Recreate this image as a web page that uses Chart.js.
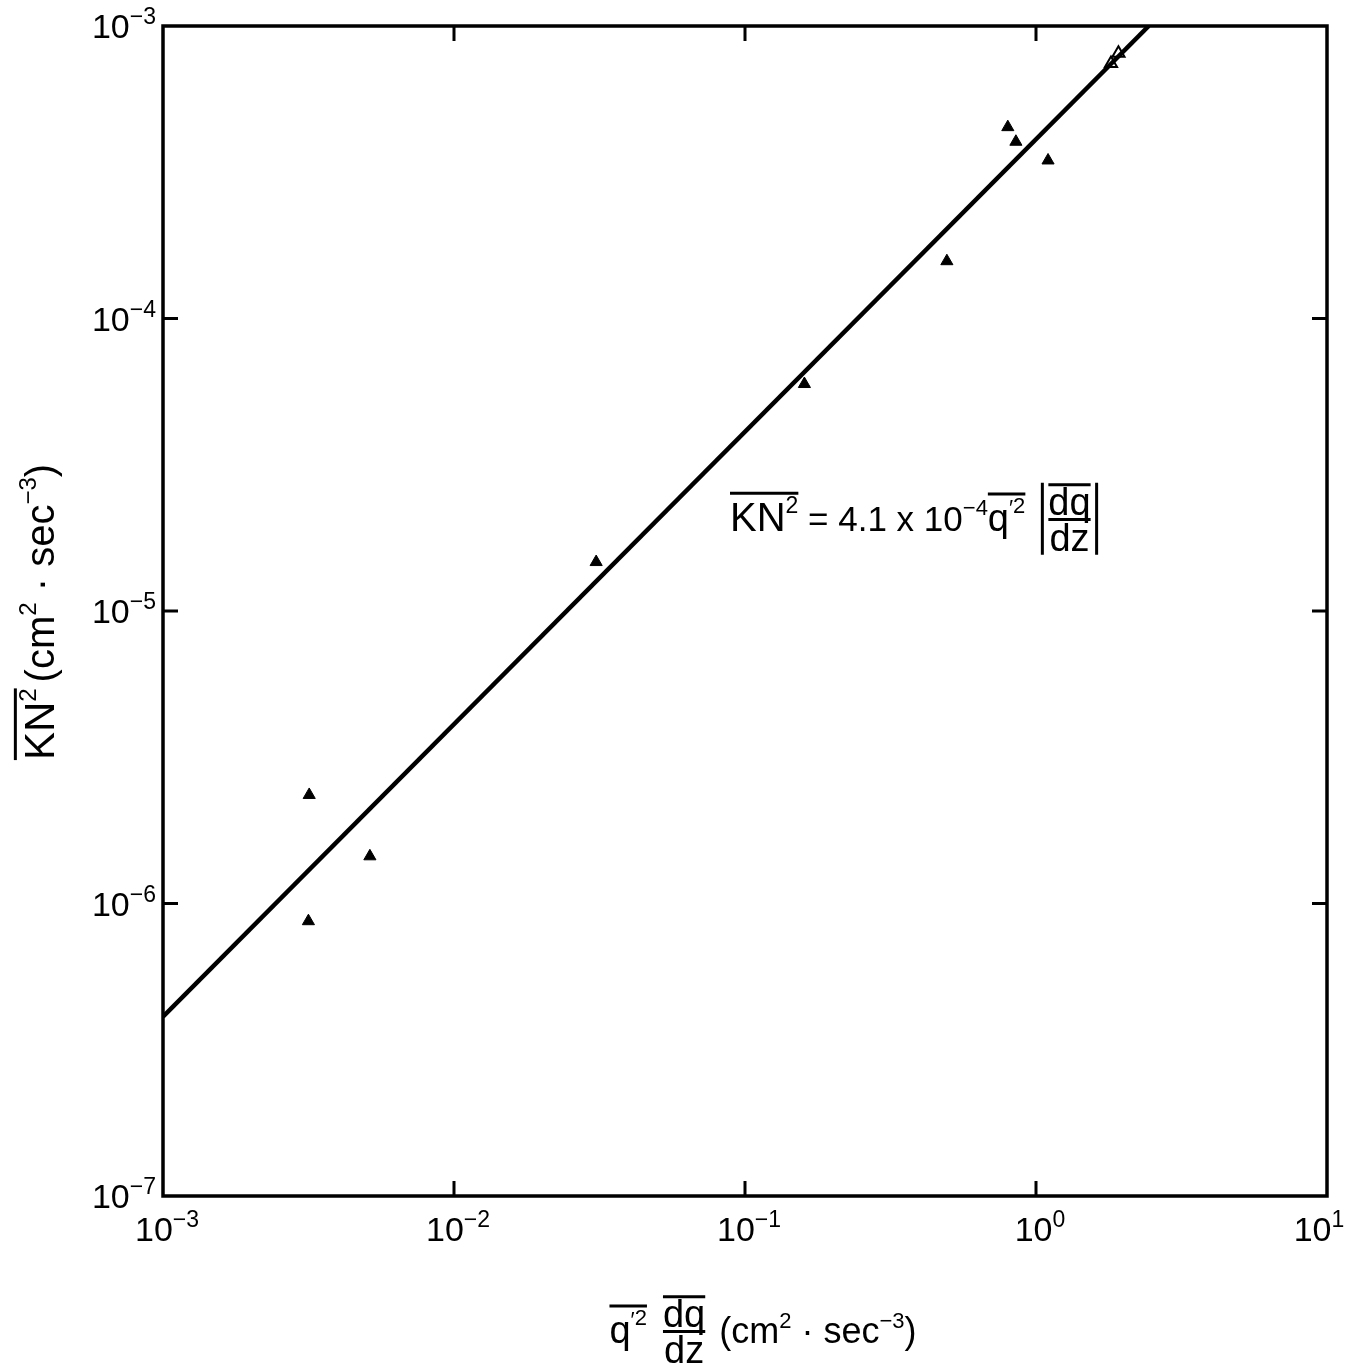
<!DOCTYPE html>
<html lang="en">
<head>
  <meta charset="UTF-8" />
  <title>KN2 vs q'2 dq/dz</title>
  <style>
    body { margin: 0; padding: 0; background: #fff; }
    #wrap { width: 1350px; height: 1367px; }
  </style>
</head>
<body>
  <div id="wrap"><canvas id="chart" width="1350" height="1367"></canvas></div>

  <script src="https://cdn.jsdelivr.net/npm/chart.js"></script>
  <script>
    // measured points (filled triangles)
    const obsX = [0.00318, 0.00316, 0.00514, 0.0308, 0.160, 0.494, 0.80, 0.853, 1.10];
    const obsY = [2.35e-6, 8.7e-7, 1.45e-6, 1.47e-5, 5.97e-5, 1.57e-4, 4.51e-4, 4.02e-4, 3.47e-4];
    // the two open triangles near the top
    const openX = [1.81, 1.92];
    const openY = [7.45e-4, 8.07e-4];
    // fitted line KN^2 = 4.1e-4 * x, end points
    const fitX = [0.001, 2.44];
    const fitY = [4.1e-7, 1.0e-3];

    const xTicks = [1e-3, 1e-2, 1e-1, 1, 10];
    const xTickExp = ['\u22123', '\u22122', '\u22121', '0', '1'];
    const yTicks = [1e-7, 1e-6, 1e-5, 1e-4, 1e-3];
    const yTickExp = ['\u22127', '\u22126', '\u22125', '\u22124', '\u22123'];

    const FONT = '"Liberation Sans", Arial, sans-serif';

    const pts = (xs, ys) => xs.map((x, i) => ({ x: x, y: ys[i] }));

    // ---- tiny rich text helper (superscripts, overlines, fractions) ----
    function partWidth(ctx, p) {
      if (p.gap) return p.gap;
      ctx.font = p.size + 'px ' + FONT;
      if (p.frac) {
        const w = Math.max(ctx.measureText(p.frac[0]).width, ctx.measureText(p.frac[1]).width);
        return w + (p.abs ? 18 : 4);
      }
      return ctx.measureText(p.t).width;
    }

    function drawRich(ctx, parts, x, base, align) {
      let total = 0;
      parts.forEach(p => { total += partWidth(ctx, p); });
      let cx = align === 'center' ? x - total / 2 : (align === 'right' ? x - total : x);
      const groups = {};
      ctx.textAlign = 'left';
      ctx.textBaseline = 'alphabetic';
      parts.forEach(p => {
        const w = partWidth(ctx, p);
        if (p.gap) { cx += w; return; }
        ctx.font = p.size + 'px ' + FONT;
        if (p.frac) {
          const bar = base - p.size * 0.30;
          const inner = cx + (p.abs ? 9 : 2);
          const iw = w - (p.abs ? 18 : 4);
          const tw = ctx.measureText(p.frac[0]).width;
          const bw = ctx.measureText(p.frac[1]).width;
          const topBase = bar - p.size * 0.12;
          const botBase = bar + p.size * 0.82;
          ctx.fillText(p.frac[0], inner + (iw - tw) / 2, topBase);
          ctx.fillText(p.frac[1], inner + (iw - bw) / 2, botBase);
          ctx.lineWidth = 3;
          ctx.beginPath();
          ctx.moveTo(inner, bar); ctx.lineTo(inner + iw, bar);
          const ov = topBase - p.size * 0.80;
          ctx.moveTo(inner, ov); ctx.lineTo(inner + iw, ov);
          if (p.abs) {
            ctx.moveTo(cx + 3, ov - 2); ctx.lineTo(cx + 3, botBase + 4);
            ctx.moveTo(cx + w - 3, ov - 2); ctx.lineTo(cx + w - 3, botBase + 4);
          }
          ctx.stroke();
        } else {
          const rise = p.rise || 0;
          ctx.fillText(p.t, cx, base - rise);
          if (p.over) {
            const oy = base - rise - p.size * 0.86;
            const g = groups[p.over] || (groups[p.over] = { x0: cx, x1: cx, y: oy });
            g.x1 = cx + w;
            g.y = Math.min(g.y, oy);
          }
        }
        cx += w;
      });
      ctx.lineWidth = 3;
      Object.values(groups).forEach(g => {
        ctx.beginPath();
        ctx.moveTo(g.x0, g.y); ctx.lineTo(g.x1, g.y);
        ctx.stroke();
      });
      return total;
    }

    const framePlugin = {
      id: 'frame',
      afterDraw(chart) {
        const ctx = chart.ctx;
        const a = chart.chartArea;
        const xs = chart.scales.x, ys = chart.scales.y;
        ctx.save();
        ctx.strokeStyle = '#000';
        ctx.fillStyle = '#000';
        ctx.lineWidth = 3.5;
        ctx.strokeRect(a.left, a.top, a.right - a.left, a.bottom - a.top);

        // inward decade ticks on all four sides
        const tl = 15;
        ctx.lineWidth = 3;
        ctx.beginPath();
        xTicks.forEach(v => {
          const px = xs.getPixelForValue(v);
          if (px <= a.left + 1 || px >= a.right - 1) return;
          ctx.moveTo(px, a.bottom); ctx.lineTo(px, a.bottom - tl);
          ctx.moveTo(px, a.top); ctx.lineTo(px, a.top + tl);
        });
        yTicks.forEach(v => {
          const py = ys.getPixelForValue(v);
          if (py <= a.top + 1 || py >= a.bottom - 1) return;
          ctx.moveTo(a.left, py); ctx.lineTo(a.left + tl, py);
          ctx.moveTo(a.right, py); ctx.lineTo(a.right - tl, py);
        });
        ctx.stroke();

        // tick labels 10^n
        xTicks.forEach((v, i) => {
          let px = xs.getPixelForValue(v);
          const parts = [{ t: '10', size: 34 }, { t: xTickExp[i], size: 23, rise: 14 }];
          if (i === xTicks.length - 1) px -= 12;
          drawRich(ctx, parts, px + 4, a.bottom + 45, 'center');
        });
        yTicks.forEach((v, i) => {
          const py = ys.getPixelForValue(v);
          const parts = [{ t: '10', size: 34 }, { t: yTickExp[i], size: 23, rise: 14 }];
          drawRich(ctx, parts, a.left - 7, py + 12, 'right');
        });

        // x axis title
        drawRich(ctx, [
          { t: 'q', size: 38, over: 'q' }, { t: '\u2032', size: 22, rise: 16, over: 'q' },
          { t: '2', size: 22, rise: 18, over: 'q' }, { gap: 14 },
          { frac: ['dq', 'dz'], size: 38 }, { gap: 12 },
          { t: '(cm', size: 36 }, { t: '2', size: 22, rise: 15 },
          { t: ' \u00b7 sec', size: 36 }, { t: '\u22123', size: 22, rise: 15 }, { t: ')', size: 36 }
        ], 763, 1343, 'center');

        // y axis title (rotated)
        ctx.save();
        ctx.translate(40, 612);
        ctx.rotate(-Math.PI / 2);
        drawRich(ctx, [
          { t: 'KN', size: 42, over: 'k' }, { t: '2', size: 24, rise: 18, over: 'k' }, { gap: 6 },
          { t: '(cm', size: 40 }, { t: '2', size: 24, rise: 18 },
          { t: ' \u00b7 sec', size: 40 }, { t: '\u22123', size: 24, rise: 18 }, { t: ')', size: 40 }
        ], 0, 14, 'center');
        ctx.restore();

        // equation of the fitted line
        drawRich(ctx, [
          { t: 'KN', size: 40, over: 'k' }, { t: '2', size: 23, rise: 18, over: 'k' },
          { t: ' = 4.1 x 10', size: 35 }, { t: '\u22124', size: 22, rise: 16 },
          { t: 'q', size: 38, over: 'q' }, { t: '\u2032', size: 22, rise: 16, over: 'q' },
          { t: '2', size: 22, rise: 18, over: 'q' }, { gap: 14 },
          { frac: ['dq', 'dz'], size: 38, abs: true }
        ], 730, 531, 'left');
        ctx.restore();
      }
    };

    new Chart(document.getElementById('chart'), {
      type: 'scatter',
      data: {
        datasets: [
          {
            type: 'line',
            label: 'fit',
            data: pts(fitX, fitY),
            borderColor: '#000',
            borderWidth: 4.5,
            pointRadius: 0,
            fill: false
          },
          {
            label: 'observed',
            data: pts(obsX, obsY),
            pointStyle: 'triangle',
            pointRadius: 7,
            backgroundColor: '#000',
            borderColor: '#000',
            borderWidth: 1
          },
          {
            label: 'observed (open)',
            data: pts(openX, openY),
            pointStyle: 'triangle',
            pointRadius: 7,
            backgroundColor: '#fff',
            borderColor: '#000',
            borderWidth: 2
          }
        ]
      },
      options: {
        responsive: false,
        animation: false,
        layout: { padding: { left: 163, top: 26, right: 23, bottom: 171 } },
        plugins: { legend: { display: false }, tooltip: { enabled: false } },
        scales: {
          x: { type: 'logarithmic', min: 1e-3, max: 10, display: false },
          y: { type: 'logarithmic', min: 1e-7, max: 1e-3, display: false }
        }
      },
      plugins: [framePlugin]
    });
  </script>
</body>
</html>
